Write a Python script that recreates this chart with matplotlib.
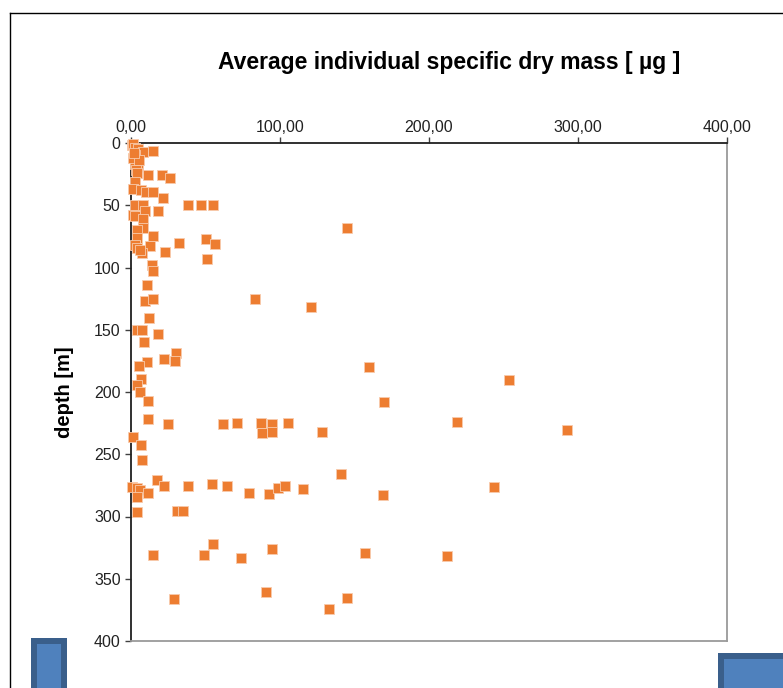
import matplotlib.pyplot as plt
import matplotlib.patches as mpatches
from matplotlib.lines import Line2D
from matplotlib.ticker import FuncFormatter, MultipleLocator

plt.rcParams['font.family'] = ['Liberation Sans', 'DejaVu Sans']

# average individual specific dry mass [ug] and depth [m]
mass = [0.5, 1.2, 2.7, 5.0, 8.3, 15.0, 3.0, 3.8, 4.9, 2.5, 3.5, 1.5, 5.5, 2.0, 4.0,
        11.6, 20.6, 26.2, 2.7, 1.6, 7.0, 10.0, 15.0, 21.7,
        2.7, 8.3, 38.5, 47.0, 55.2, 9.4, 18.3, 1.6, 2.7, 8.3,
        144.7, 8.3, 4.0, 15.0, 3.8, 50.3, 32.0, 56.4, 2.7, 3.8, 12.8, 22.8, 7.2, 6.0,
        50.8, 14.0, 15.0, 10.5, 9.4, 15.0, 83.2, 120.6, 12.1, 3.8, 7.2, 18.3, 8.9,
        30.2, 22.4, 29.5, 10.5, 5.6, 159.5, 6.7, 253.7, 3.8, 6.0, 170.0, 11.6, 11.6,
        218.8, 24.6, 62.0, 71.3, 87.2, 94.4, 105.6, 87.7, 94.4, 128.0, 292.4,
        1.6, 6.7, 7.2, 140.7, 17.2, 1.0, 3.8, 6.0, 11.6, 3.8, 22.1, 38.5, 54.1, 64.7,
        79.2, 92.8, 98.4, 103.4, 115.7, 169.3, 243.6,
        4.2, 30.7, 35.1, 55.2, 94.8, 14.6, 49.0, 73.8, 157.0, 211.9,
        90.4, 29.0, 144.7, 133.0]
depth = [2, 1, 4, 5, 7, 6.5, 10, 14, 19, 17, 22, 12, 14, 8, 24,
         26, 26, 28, 31, 37, 38, 39, 39, 44,
         50, 50, 50, 50, 50, 55, 55, 58, 59, 61,
         68, 68.5, 70, 74.6, 76.5, 77.4, 80, 81.4, 82, 84, 82.7, 87.3, 88.6, 86,
         93.4, 98, 102.5, 114, 126.6, 125.5, 125.5, 131.5, 140.3, 150, 150, 153.7, 160,
         168.4, 173.7, 175, 175.6, 179, 180, 189.8, 190.4, 194.4, 200.2, 208.3, 207, 221.7,
         224, 225.7, 225.7, 224.9, 224.9, 225.7, 224.9, 232.7, 231.9, 232.4, 230.8,
         236, 242.8, 254.6, 266, 271, 276, 277.4, 279, 281.4, 284, 275.5, 275.5, 274.1, 275.5,
         281.4, 282.2, 276.8, 275.5, 277.9, 283, 276.3,
         296.5, 295.6, 295.6, 322.3, 326.4, 331, 331, 333, 329.3, 332,
         360.6, 366, 365.2, 374.5]

W, H = 783, 688
fig = plt.figure(figsize=(W / 100, H / 100), dpi=100)
ax = fig.add_axes([131 / W, 1 - 641 / H, (727 - 131) / W, (641 - 143) / H])

ax.scatter(mass, depth, marker='s', s=44, color='#ED7D31',
           edgecolors='#F8CBAD', linewidths=0.6, zorder=3, clip_on=False)

ax.set_xlim(0, 400)
ax.set_ylim(400, 0)
ax.xaxis.set_major_locator(MultipleLocator(100))
ax.yaxis.set_major_locator(MultipleLocator(50))
ax.xaxis.set_major_formatter(FuncFormatter(lambda v, p: f"{v:.2f}".replace('.', ',')))
ax.xaxis.tick_top()
ax.tick_params(axis='both', labelsize=11.5, length=4, width=1, color='#404040',
               labelcolor='#222222', direction='out')
ax.tick_params(axis='x', pad=2)

for side in ['left', 'top']:
    ax.spines[side].set_color('#202020')
    ax.spines[side].set_linewidth(1.3)
for side in ['right', 'bottom']:
    ax.spines[side].set_color('#9a9a9a')
    ax.spines[side].set_linewidth(1.3)

fig.text(449 / W, 1 - 63 / H, 'Average individual specific dry mass [ µg ]',
         ha='center', va='center', fontsize=16.5, fontweight='bold')
fig.text(64 / W, 1 - 392 / H, 'depth [m]', ha='center', va='center',
         rotation=90, fontsize=14.5, fontweight='bold')

# outer frame (only the left and top edges are visible)
fig.add_artist(Line2D([10 / W, 10 / W], [0, 1 - 13 / H], color='black', lw=1))
fig.add_artist(Line2D([10 / W, 1], [1 - 13 / H, 1 - 13 / H], color='black', lw=1))

# the two cut-off blue shapes at the bottom
for x0, y0 in [(31, 638), (718, 653)]:
    fig.add_artist(mpatches.Rectangle((x0 / W, 0), (W if x0 > 700 else 67) / W - x0 / W,
                                      1 - y0 / H, transform=fig.transFigure,
                                      facecolor='#3A5F8B', edgecolor='none'))
    fig.add_artist(mpatches.Rectangle(((x0 + 6) / W, 0),
                                      (W if x0 > 700 else 61) / W - (x0 + 6) / W,
                                      1 - (y0 + 6) / H, transform=fig.transFigure,
                                      facecolor='#4F81BD', edgecolor='none'))

fig.savefig('out.png', dpi=100)
